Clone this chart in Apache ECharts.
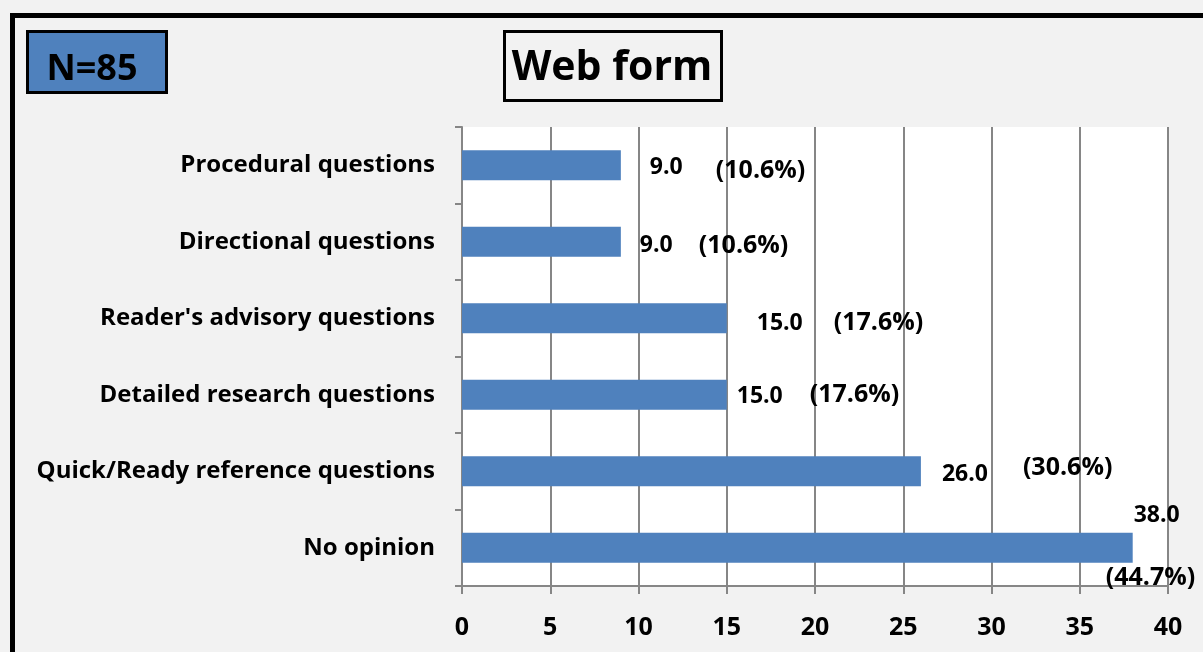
<!DOCTYPE html>
<html>
<head>
<meta charset="utf-8">
<script src="https://cdn.jsdelivr.net/npm/echarts@6/dist/echarts.min.js"></script>
<style>
html,body{margin:0;padding:0;background:#f2f2f2;}
#chart{width:1203px;height:652px;}
</style>
</head>
<body>
<div id="chart"></div>
<script>
// Data (bottom to top as drawn on a category y-axis)
var categories = ["No opinion", "Quick/Ready reference questions", "Detailed research questions", "Reader's advisory questions", "Directional questions", "Procedural questions"];
var counts = [38.0, 26.0, 15.0, 15.0, 9.0, 9.0];
var percents = ["(44.7%)", "(30.6%)", "(17.6%)", "(17.6%)", "(10.6%)", "(10.6%)"];
var xTicks = [0, 5, 10, 15, 20, 25, 30, 35, 40];
var sampleLabel = "N=85";
var titleText = "Web form";

// label offsets (layout only)
var countOffsets = [[-4, -32], [16, 3], [5, 2], [25, 5], [14, 4], [24, 2]];
var pctOffsets = [[-32, 30], [97, -3], [78, 0], [102, 5], [73, 4], [90, 6]];

var FONT = "Open Sans";
var chart = echarts.init(document.getElementById('chart'));

var countData = counts.map(function (v, i) {
  return { value: v, label: { offset: countOffsets[i] } };
});
var pctData = counts.map(function (v, i) {
  return { value: v, label: { offset: pctOffsets[i], formatter: percents[i] } };
});

var option = {
  backgroundColor: '#f2f2f2',
  animation: false,
  grid: { left: 462, top: 127, right: 35, bottom: 66, show: true, backgroundColor: '#ffffff', borderWidth: 0 },
  xAxis: {
    type: 'value', min: 0, max: 40, interval: 5,
    axisLine: { show: true, lineStyle: { color: '#868686', width: 2 } },
    axisTick: { show: true, length: 8, lineStyle: { color: '#868686', width: 2 } },
    splitLine: { show: true, lineStyle: { color: '#868686', width: 2 } },
    axisLabel: { color: '#000', fontFamily: FONT, fontWeight: 'bold', fontSize: 25, margin: 29,
      formatter: function (v) { return xTicks.indexOf(v) >= 0 ? String(v) : ''; } }
  },
  yAxis: {
    type: 'category', data: categories,
    axisLine: { show: true, lineStyle: { color: '#868686', width: 2 } },
    axisTick: { show: true, length: 7, lineStyle: { color: '#868686', width: 2 } },
    axisLabel: { color: '#000', fontFamily: FONT, fontWeight: 'bold', fontSize: 24, margin: 27 }
  },
  series: [
    {
      type: 'bar', data: countData, barWidth: 30,
      itemStyle: { color: '#4f81bd' },
      label: { show: true, position: 'right', distance: 5, color: '#000', fontFamily: FONT, fontWeight: 'bold', fontSize: 23,
        formatter: function (p) { return p.value.toFixed(1); } }
    },
    {
      type: 'bar', data: pctData, barWidth: 30, barGap: '-100%',
      itemStyle: { color: 'rgba(0,0,0,0)' },
      label: { show: true, position: 'right', distance: 5, color: '#000', fontFamily: FONT, fontWeight: 'bold', fontSize: 25 },
      z: 3
    }
  ],
  graphic: [
    { type: 'rect', left: 10, top: 13, shape: { width: 1220, height: 680 }, style: { fill: 'none', stroke: '#000', lineWidth: 5 }, silent: true, z: -1 },
    { type: 'rect', left: 26, top: 30, shape: { width: 139, height: 61 }, style: { fill: '#4f81bd', stroke: '#000', lineWidth: 3 }, z: 10 },
    { type: 'text', x: 92, y: 70, style: { text: sampleLabel, font: 'bold 36px ' + FONT, fill: '#000', align: 'center', verticalAlign: 'middle' }, z: 11 },
    { type: 'rect', left: 503, top: 30, shape: { width: 217, height: 69 }, style: { fill: '#f2f2f2', stroke: '#000', lineWidth: 3 }, z: 10 },
    { type: 'text', x: 612, y: 68, style: { text: titleText, font: 'bold 41px ' + FONT, fill: '#000', align: 'center', verticalAlign: 'middle' }, z: 11 }
  ]
};
chart.setOption(option);
</script>
</body>
</html>
